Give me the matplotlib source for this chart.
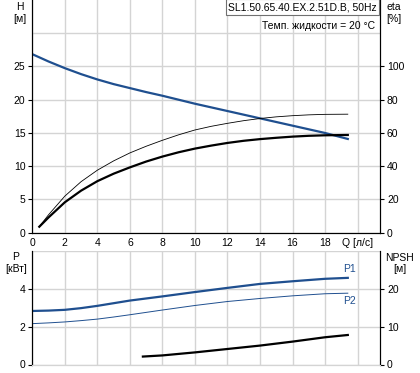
import matplotlib
matplotlib.use("Agg")
import matplotlib.pyplot as plt
from matplotlib.patches import Rectangle

plt.rcParams['font.family'] = ['Liberation Sans', 'DejaVu Sans']
plt.rcParams['font.size'] = 7.5

# head curve H [m]
q_h = [0, 1, 2, 3, 4, 5, 6, 7, 8, 9, 10, 11, 12, 13, 14, 15, 16, 17, 18, 19.4]
h = [26.85, 25.75, 24.75, 23.85, 23.05, 22.35, 21.75, 21.15, 20.6, 20.0, 19.4, 18.85,
     18.3, 17.75, 17.2, 16.65, 16.1, 15.55, 15.0, 14.1]

# efficiency curves eta [%]
q_eta = [0.43, 1, 2, 3, 4, 5, 6, 7, 8, 9, 10, 11, 12, 13, 14, 15, 16, 17, 18, 19.4]
eta_pump = [3.6, 10.8, 22.0, 30.7, 37.6, 43.2, 48.0, 52.0, 55.6, 58.9, 61.8, 64.0,
            65.8, 67.4, 68.7, 69.7, 70.4, 70.9, 71.2, 71.3]
eta_total = [3.6, 9.2, 18.3, 25.3, 31.0, 35.5, 39.3, 42.8, 45.8, 48.4, 50.6, 52.4,
             54.0, 55.3, 56.3, 57.1, 57.8, 58.3, 58.6, 58.8]

# power P1, P2 [kW]
q_p = [0, 1, 2, 3, 4, 5, 6, 8, 10, 12, 14, 16, 18, 19.4]
p1 = [2.83, 2.85, 2.89, 2.98, 3.10, 3.24, 3.38, 3.60, 3.83, 4.05, 4.26, 4.40, 4.53, 4.58]
p2 = [2.16, 2.20, 2.25, 2.32, 2.40, 2.51, 2.63, 2.88, 3.12, 3.33, 3.49, 3.63, 3.74, 3.77]

# NPSH [m]
q_npsh = [6.8, 8, 10, 12, 14, 16, 18, 19.4]
npsh = [2.1, 2.4, 3.2, 4.1, 5.0, 6.05, 7.2, 7.8]

x_ticks = [0, 2, 4, 6, 8, 10, 12, 14, 16, 18, 20]
x_labels = ['0', '2', '4', '6', '8', '10', '12', '14', '16', '18', 'Q [л/с]']

blue = '#1f4f8f'
grid_c = '#d4d4d4'
W, H = 420, 373

fig = plt.figure(figsize=(4.2, 3.73), dpi=100)


def fx(px):
    return px / W


def fy(py):
    return 1 - py / H


ax1 = fig.add_axes([fx(32.3), fy(232.7), fx(380) - fx(32.3), fy(0) - fy(232.7)])
ax1r = ax1.twinx()
ax2 = fig.add_axes([fx(32.3), fy(364.5), fx(380) - fx(32.3), fy(251) - fy(364.5)])
ax2r = ax2.twinx()

# top chart
ax1.set_xlim(0, 21.38)
ax1.set_ylim(0, 35)
ax1r.set_ylim(0, 140)
ax1.set_xticks(x_ticks)
ax1.set_xticklabels(x_labels)
ax1.set_yticks([0, 5, 10, 15, 20, 25])
ax1r.set_yticks([0, 20, 40, 60, 80, 100])
ax1.grid(True, color=grid_c, lw=1)
ax1.axhline(30, color=grid_c, lw=1, zorder=0)
ax1.set_axisbelow(True)

ax1.plot(q_h, h, color=blue, lw=1.6, zorder=5)
ax1r.plot(q_eta, eta_pump, color='black', lw=0.6)
ax1r.plot(q_eta, eta_total, color='black', lw=1.6)

# bottom chart
ax2.set_xlim(0, 21.38)
ax2.set_ylim(0, 6)
ax2r.set_ylim(0, 30)
ax2.set_xticks(x_ticks)
ax2.set_xticklabels([])
ax2.set_yticks([0, 2, 4])
ax2r.set_yticks([0, 10, 20])
ax2.grid(True, color=grid_c, lw=1)
ax2.axhline(6, color=grid_c, lw=1, zorder=0)
ax2.set_axisbelow(True)

ax2.plot(q_p, p1, color=blue, lw=1.6)
ax2.plot(q_p, p2, color=blue, lw=0.7)
ax2r.plot(q_npsh, npsh, color='black', lw=1.6)
ax2.text(19.5, p1[-1] + 0.2, 'P1', color=blue, ha='center', va='bottom')
ax2.text(19.5, p2[-1] - 0.15, 'P2', color=blue, ha='center', va='top')

for a in (ax1, ax1r, ax2, ax2r):
    a.spines['top'].set_visible(False)
    a.tick_params(length=3, width=0.8, pad=2, colors='black')
ax1.tick_params(axis='x', length=0, pad=4)
ax2.tick_params(axis='x', length=0)
for a in (ax2, ax2r):
    a.spines['bottom'].set_color(grid_c)

# axis titles
fig.text(fx(20), fy(7), 'H', ha='center', va='center')
fig.text(fx(20), fy(19), '[м]', ha='center', va='center')
fig.text(fx(394), fy(7), 'eta', ha='center', va='center')
fig.text(fx(394), fy(19), '[%]', ha='center', va='center')
fig.text(fx(16), fy(257), 'P', ha='center', va='center')
fig.text(fx(16), fy(269), '[кВт]', ha='center', va='center')
fig.text(fx(400), fy(258), 'NPSH', ha='center', va='center')
fig.text(fx(400), fy(269), '[м]', ha='center', va='center')

# title box
fig.patches.append(Rectangle((fx(226), fy(15)), fx(379) - fx(226), fy(-1) - fy(15),
                             transform=fig.transFigure, facecolor='white',
                             edgecolor='#707070', lw=0.8, zorder=10))
fig.text(fx(302.5), fy(7.5), 'SL1.50.65.40.EX.2.51D.B, 50Hz', ha='center', va='center', zorder=11)
fig.text(fx(375), fy(26), 'Темп. жидкости = 20 °C', ha='right', va='center')

fig.savefig('out.png', dpi=100)
